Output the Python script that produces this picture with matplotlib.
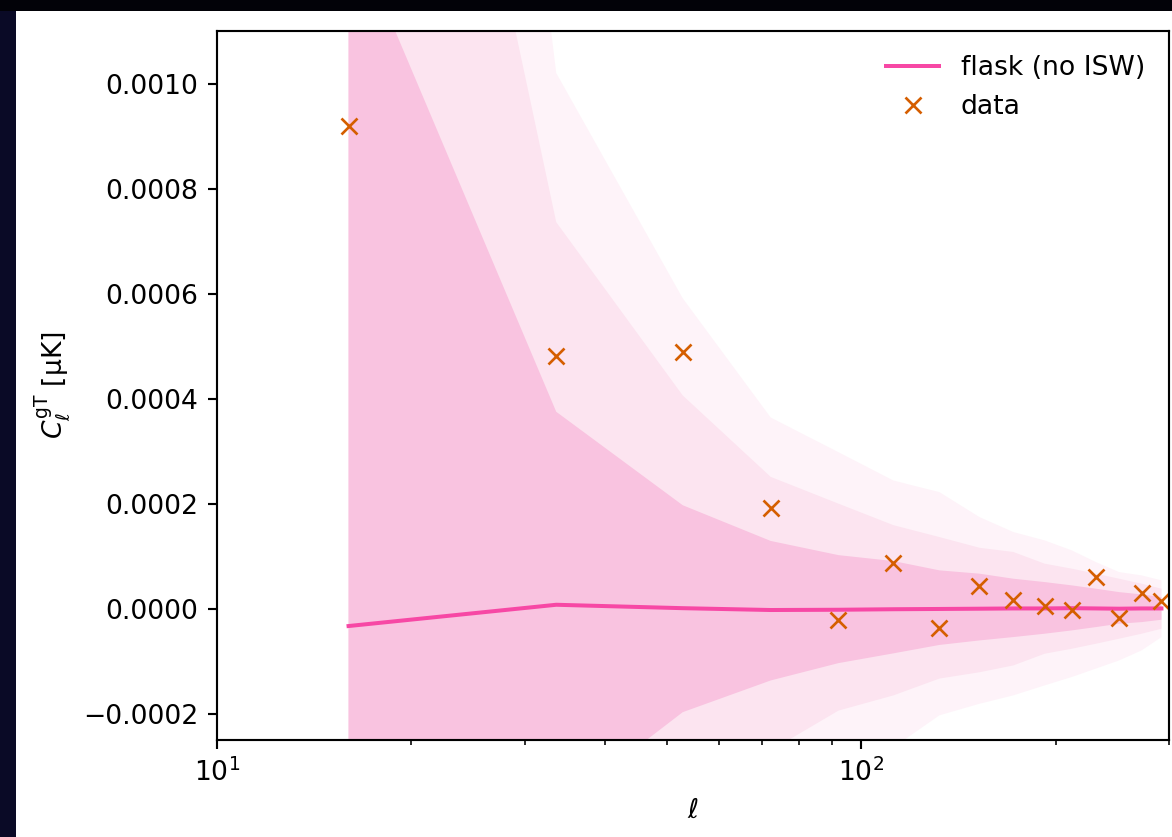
import numpy as np
import matplotlib
matplotlib.use("Agg")
import matplotlib.pyplot as plt
from matplotlib.patches import Rectangle

# multipole bin centres
ell = [16.0, 33.6, 52.8, 72.3, 92.1, 112.1, 132.1, 152.4, 172.0, 192.4,
       212.0, 231.0, 251.0, 272.0, 292.0]

# measured galaxy x temperature cross spectrum
data_cl = [9.19e-4, 4.82e-4, 4.88e-4, 1.91e-4, -2.2e-5, 8.7e-5, -3.7e-5,
           4.3e-5, 1.6e-5, 6.0e-6, -3.0e-6, 6.0e-5, -1.7e-5, 2.9e-5, 1.5e-5]

# flask simulations without ISW: mean and 1/2/3 sigma envelopes
flask_mean = [-3.3e-5, 7.5e-6, 1.0e-6, -2.5e-6, -2.0e-6, -1.0e-6, -0.5e-6,
              0.0, 0.5e-6, 0.5e-6, 1.0e-6, 0.5e-6, 0.0, 0.5e-6, 0.5e-6]
band1_hi = [1.31e-3, 3.75e-4, 1.97e-4, 1.29e-4, 1.02e-4, 9.07e-5, 7.3e-5,
            6.67e-5, 5.71e-5, 5.07e-5, 4.44e-5, 3.81e-5, 3.16e-5, 2.72e-5, 2.21e-5]
band1_lo = [-1.38e-3, -3.82e-4, -1.97e-4, -1.366e-4, -1.036e-4, -8.5e-5, -6.9e-5,
            -6.04e-5, -5.4e-5, -4.76e-5, -4.13e-5, -3.5e-5, -2.86e-5, -2.55e-5, -2.1e-5]
band2_hi = [2.59e-3, 7.36e-4, 4.06e-4, 2.51e-4, 2.0e-4, 1.59e-4, 1.364e-4,
            1.16e-4, 1.08e-4, 8.57e-5, 7.62e-5, 6.67e-5, 5.71e-5, 4.76e-5, 3.81e-5]
band2_lo = [-2.65e-3, -7.5e-4, -4.1e-4, -2.7e-4, -1.94e-4, -1.65e-4, -1.33e-4,
            -1.21e-4, -1.08e-4, -8.57e-5, -7.62e-5, -6.67e-5, -5.71e-5, -4.76e-5, -3.81e-5]
band3_hi = [4.26e-3, 1.02e-3, 5.91e-4, 3.64e-4, 2.98e-4, 2.44e-4, 2.22e-4,
            1.745e-4, 1.46e-4, 1.30e-4, 1.11e-4, 8.88e-5, 6.97e-5, 6.34e-5, 5.39e-5]
band3_lo = [-4.3e-3, -1.05e-3, -6.0e-4, -3.7e-4, -3.0e-4, -2.64e-4, -2.03e-4,
            -1.81e-4, -1.65e-4, -1.46e-4, -1.30e-4, -1.14e-4, -9.85e-5, -7.94e-5, -5.41e-5]

W, H, DPI = 1172, 837, 192
fig = plt.figure(figsize=(W / DPI, H / DPI), dpi=DPI, facecolor="#0a0a26")
# dark strip along the top edge
fig.patches.append(Rectangle((0, 1 - 11 / H), 1, 11 / H,
                             transform=fig.transFigure, facecolor="#020208",
                             edgecolor="none", zorder=-11))
# white slide panel behind the axes
fig.patches.append(Rectangle((16 / W, 0), 1 - 16 / W, 1 - 11 / H,
                             transform=fig.transFigure, facecolor="white",
                             edgecolor="none", zorder=-10))

ax = fig.add_axes([217 / W, 97 / H, (1169 - 217) / W, (740 - 31) / H])
ax.set_zorder(1)

ax.fill_between(ell, band3_lo, band3_hi, color="#FEF3F9", linewidth=0)
ax.fill_between(ell, band2_lo, band2_hi, color="#FCE4F0", linewidth=0)
ax.fill_between(ell, band1_lo, band1_hi, color="#F9C3E0", linewidth=0)
ax.plot(ell, flask_mean, color="#F748A5", lw=1.5, label="flask (no ISW)")
ax.plot(ell, data_cl, "x", color="#D55E00", ms=6, label="data")

ax.set_xscale("log")
ax.set_xlim(10, 300)
ax.set_ylim(-0.00025, 0.0011)
ax.set_xlabel(r"$\ell$")
ax.set_ylabel(r"$C_\ell^{\rm gT}$ [μK]")
ax.legend(loc="upper right", frameon=False)

fig.savefig("out.png", dpi=DPI, facecolor=fig.get_facecolor())
